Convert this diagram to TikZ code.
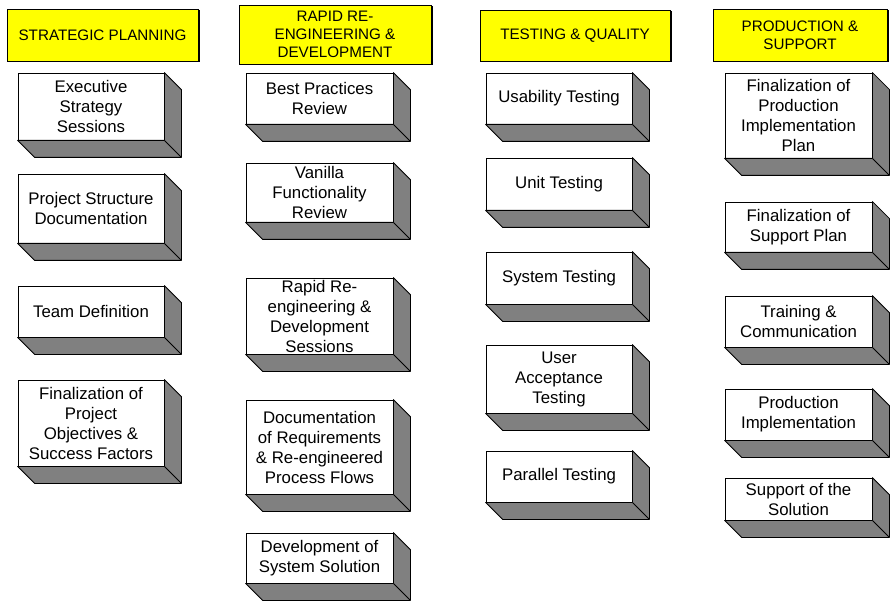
\documentclass[tikz,border=0pt]{standalone}
\usepackage{fontspec}
\setmainfont{Liberation Sans}
\usetikzlibrary{calc,shadows}
\definecolor{sidegray}{HTML}{808080}
\definecolor{headyellow}{HTML}{FFFF00}

% A raised box: white front face with grey right and bottom faces.
% #1 name, #2 left, #3 top, #4 right, #5 bottom, #6 text
\newcommand\raisedbox[6]{%
  \node[face, minimum width={#4-#2}, minimum height={#5-#3}] (#1)
    at ({(#2+#4)/2},{(#3+#5)/2}) {#6};
  \draw[sideface] (#1.north east) -- ++(17,17)
    -- ($(#1.south east)+(17,17)$) -- ($(#1.south west)+(17,17)$)
    -- (#1.south west) -- (#1.south east) -- cycle;
  \draw[sideface] (#1.south east) -- ++(17,17);
}

% A column heading: yellow box with a thin dark shadow.
\newcommand\headbox[6]{%
  \node[header, minimum width={#4-#2}, minimum height={#5-#3}] (#1)
    at ({(#2+#4)/2},{(#3+#5)/2}) {#6};
}

\begin{document}
\begin{tikzpicture}[x=1pt,y=-1pt,
  face/.style={draw=black, line width=0.8pt, fill=white, align=center,
    font=\fontsize{16.8}{20}\selectfont, inner sep=0pt},
  sideface/.style={draw=black, line width=0.8pt, fill=sidegray, line join=round},
  header/.style={draw=black, line width=0.8pt, fill=headyellow, align=center,
    font=\fontsize{15.2}{18.3}\selectfont, inner sep=0pt,
    drop shadow={shadow xshift=1.5pt, shadow yshift=-1.5pt, fill=black, opacity=1}}
]
\useasboundingbox (0,0) rectangle (890,601);

% Column headings
\headbox{h1}{7}{9}{198}{61}{STRATEGIC PLANNING}
\headbox{h2}{239}{5}{431}{64}{RAPID RE-\\ENGINEERING \&\\DEVELOPMENT}
\headbox{h3}{480}{10}{670}{61}{TESTING \& QUALITY}
\headbox{h4}{713}{9}{887}{61}{PRODUCTION \&\\SUPPORT}

% Strategic planning
\raisedbox{a1}{18}{73}{164}{140}{Executive\\Strategy\\Sessions}
\raisedbox{a2}{18}{174}{164}{243}{Project Structure\\Documentation}
\raisedbox{a3}{18}{286}{164}{337}{Team Definition}
\raisedbox{a4}{18}{380}{164}{466}{Finalization of\\Project\\Objectives \&\\Success Factors}

% Rapid re-engineering & development
\raisedbox{b1}{246}{73}{393}{124}{Best Practices\\Review}
\raisedbox{b2}{246}{163}{393}{222}{Vanilla\\Functionality\\Review}
\raisedbox{b3}{246}{278}{393}{354}{Rapid Re-\\engineering \&\\Development\\Sessions}
\raisedbox{b4}{246}{400}{393}{494}{Documentation\\of Requirements\\\& Re-engineered\\Process Flows}
\raisedbox{b5}{246}{533}{393}{583}{Development of\\System Solution}

% Testing & quality
\raisedbox{c1}{486}{73}{632}{124}{Usability Testing}
\raisedbox{c2}{486}{158}{632}{210}{Unit Testing}
\raisedbox{c3}{486}{252}{632}{304}{System Testing}
\raisedbox{c4}{486}{345}{632}{413}{User\\Acceptance\\Testing}
\raisedbox{c5}{486}{451}{632}{502}{Parallel Testing}

% Production & support
\raisedbox{d1}{725}{73}{872}{158}{Finalization of\\Production\\Implementation\\Plan}
\raisedbox{d2}{725}{202}{872}{252}{Finalization of\\Support Plan}
\raisedbox{d3}{725}{296}{872}{347}{Training \&\\Communication}
\raisedbox{d4}{725}{389}{872}{440}{Production\\Implementation}
\raisedbox{d5}{725}{478}{872}{520}{Support of the\\Solution}
\end{tikzpicture}
\end{document}
